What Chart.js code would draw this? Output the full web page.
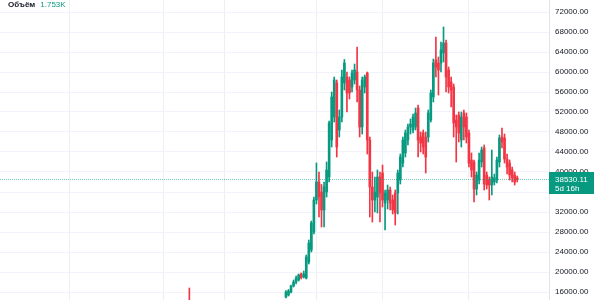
<!DOCTYPE html>
<html>
<head>
<meta charset="utf-8">
<script src="https://cdn.jsdelivr.net/npm/chart.js@4.4.1/dist/chart.umd.min.js"></script>
<style>
  html, body { margin: 0; padding: 0; background: #fff; }
  #wrap { position: relative; width: 600px; height: 300px; }
  #legend {
    position: absolute; left: 8px; top: 0; line-height: 11px;
    font: 600 8px "Liberation Sans", sans-serif; color: #131722;
  }
  #legend span { color: #089981; font-weight: 400; margin-left: 5px; }
</style>
</head>
<body>
<div id="wrap">
  <canvas id="chart"></canvas>
  <div id="legend">Объём<span>1.753K</span></div>
</div>
<script>
// свечи (видимая часть), по порядку слева направо
const opens  = [15000, 15400, 16000, 17200, 18000, 18400, 19600, 19000, 18800, 22000,
                24400, 28000, 34400, 38000, 36000, 32400, 36000, 39000, 46400, 51000,
                57800, 48400, 51000, 57800, 59000, 58400, 57000, 58400, 60000, 56400,
                49000, 57000, 59800, 46400, 37000, 34400, 35000, 39000, 39800, 33800,
                34400, 36400, 34400, 35800, 35800, 38400, 41800, 43800, 46400, 49000,
                48400, 49000, 52800, 47000, 47800, 47000, 47000, 50400, 55000, 62400,
                61800, 61800, 63800, 65800, 60400, 58000, 57000, 50400, 51400, 46400,
                51800, 51000, 47800, 42400, 42000, 36600, 38400, 42000, 44800, 39400,
                38400, 37400, 38000, 38400, 42000, 47000, 46800, 42600, 41800, 40400,
                39400, 38800];
const highs  = [16300, 16500, 17400, 18400, 19200, 19600, 19800, 20200, 23400, 26400,
                30200, 35000, 41800, 40000, 37500, 38000, 42000, 50200, 56000, 59000,
                58400, 52400, 60400, 62500, 60000, 59000, 60400, 61600, 65000, 57200,
                59000, 59400, 60000, 47000, 40000, 39000, 40400, 40000, 41400, 36400,
                37400, 37000, 35400, 36400, 40400, 43600, 47000, 48400, 49600, 50600,
                51600, 52800, 53400, 48000, 48400, 48000, 52400, 56400, 62600, 67000,
                63000, 66000, 69000, 66400, 61000, 59000, 57600, 51400, 52000, 52000,
                52400, 51800, 48400, 43800, 42400, 40000, 43800, 45000, 45400, 40000,
                39000, 44400, 39600, 43000, 47400, 48800, 47600, 43600, 42400, 41000,
                40000, 39200];
const lows   = [14800, 15200, 15800, 17000, 17600, 18200, 18600, 18800, 18600, 21600,
                24000, 27600, 33600, 31000, 29000, 29000, 35000, 38000, 45000, 50000,
                43000, 47000, 50000, 56400, 52000, 54600, 56000, 57600, 54000, 47000,
                47600, 55800, 43600, 31000, 30000, 32000, 31800, 30000, 33000, 28400,
                32600, 32400, 31600, 29400, 31600, 37600, 41000, 43000, 45400, 47600,
                47800, 48400, 43000, 44000, 43600, 39800, 46000, 50000, 54000, 59000,
                55400, 60000, 62000, 56000, 55800, 53000, 47000, 42000, 46000, 45000,
                46400, 45800, 41000, 39000, 34000, 35400, 37600, 41000, 36400, 36600,
                34400, 35400, 37400, 37800, 41000, 44800, 41800, 39600, 38400, 38000,
                37400, 38000];
const closes = [16000, 16200, 17200, 18000, 18800, 19400, 18900, 19600, 23000, 25800,
                29800, 34400, 38000, 35000, 32400, 37000, 40400, 49800, 55000, 58400,
                45000, 51000, 59000, 61800, 55800, 55800, 59800, 60400, 56400, 49000,
                58400, 59000, 46400, 37000, 34400, 36000, 39000, 35800, 34400, 35800,
                36400, 33800, 32400, 31800, 39800, 43000, 46400, 47800, 49000, 49600,
                51000, 51800, 46400, 45800, 45000, 43000, 51800, 55800, 61800, 61000,
                60400, 64400, 65800, 59000, 57000, 56400, 49800, 49000, 47800, 51000,
                49000, 47000, 41800, 40400, 36600, 39400, 42400, 44400, 37600, 37400,
                37400, 39000, 38800, 42400, 46800, 46000, 42600, 41000, 39400, 38800,
                38000, 38530];
// одиночная ранняя свеча, видна только верхняя тень
const earlyCandle = { slot: 74, open: 14300, high: 16800, low: 13000, close: 13800 };

const slotCount = 216;   // позиций по оси времени
const firstSlot = 112;   // позиция первой видимой свечи
const lastPrice = 38530.11;
const timeLeft  = '5d 16h';
const yTicks    = [16000, 20000, 24000, 28000, 32000, 36000, 40000, 44000,
                   48000, 52000, 56000, 60000, 64000, 68000, 72000];
const timeGridSlots = [27, 64, 88, 124, 150, 184];

const UP = '#089981', DOWN = '#f23645';

const labels = Array.from({ length: slotCount }, (_, i) => String(i));
const bodies = new Array(slotCount).fill(null);
const wicks  = new Array(slotCount).fill(null);
const colors = new Array(slotCount).fill(UP);

opens.forEach((o, k) => {
    const i = firstSlot + k;
    bodies[i] = [o, closes[k]];
    wicks[i]  = [lows[k], highs[k]];
    colors[i] = closes[k] >= o ? UP : DOWN;
});
bodies[earlyCandle.slot] = [earlyCandle.open, earlyCandle.close];
wicks[earlyCandle.slot]  = [earlyCandle.low, earlyCandle.high];
colors[earlyCandle.slot] = DOWN;

const priceMark = {
    id: 'priceMark',
    afterDatasetsDraw(chart) {
        const { ctx, chartArea, scales: { y } } = chart;
        const py = Math.round(y.getPixelForValue(lastPrice)) + 0.5;
        ctx.save();
        ctx.strokeStyle = 'rgba(8, 153, 129, 0.55)';
        ctx.lineWidth = 1;
        ctx.setLineDash([1, 1]);
        ctx.beginPath();
        ctx.moveTo(chartArea.left, py);
        ctx.lineTo(chartArea.right, py);
        ctx.stroke();
        ctx.restore();
    },
    afterDraw(chart) {
        const { ctx, chartArea, scales: { y } } = chart;
        const py = Math.round(y.getPixelForValue(lastPrice));
        const x0 = chartArea.right;
        ctx.save();
        ctx.fillStyle = UP;
        ctx.fillRect(x0, py - 7, 45, 22);
        ctx.fillStyle = '#ffffff';
        ctx.font = '8px "Liberation Sans", sans-serif';
        ctx.textBaseline = 'middle';
        ctx.fillText(lastPrice.toFixed(2), x0 + 6, py + 1);
        ctx.fillText(timeLeft, x0 + 6, py + 10);
        ctx.restore();
    },
};

new Chart(document.getElementById('chart'), {
    type: 'bar',
    data: {
        labels,
        datasets: [
            {
                data: wicks,
                backgroundColor: colors,
                barThickness: 1,
                grouped: false,
                order: 2,
            },
            {
                data: bodies,
                backgroundColor: colors,
                barThickness: 2,
                minBarLength: 1,
                grouped: false,
                order: 1,
            },
        ],
    },
    options: {
        responsive: true,
        maintainAspectRatio: false,
        animation: false,
        layout: { padding: 0 },
        plugins: {
            legend: { display: false },
            tooltip: { enabled: false },
        },
        scales: {
            x: {
                offset: true,
                ticks: { display: false, autoSkip: false },
                grid: {
                    offset: false,
                    drawTicks: false,
                    color: (c) => timeGridSlots.includes(c.index) ? '#eceff3' : 'rgba(0,0,0,0)',
                },
                border: { display: false },
            },
            y: {
                position: 'right',
                min: 14400,
                max: 74400,
                afterBuildTicks: (s) => { s.ticks = yTicks.map((v) => ({ value: v })); },
                afterFit: (s) => { s.width = 51; s.paddingTop = 0; s.paddingBottom = 0; },
                ticks: {
                    padding: 6,
                    color: '#131722',
                    font: { size: 8, family: '"Liberation Sans", sans-serif' },
                    callback: (v) => Number(v).toFixed(2),
                },
                grid: { color: '#f0f3fa', drawTicks: false },
                border: { color: '#e0e3eb' },
            },
        },
    },
    plugins: [priceMark],
});
</script>
</body>
</html>
